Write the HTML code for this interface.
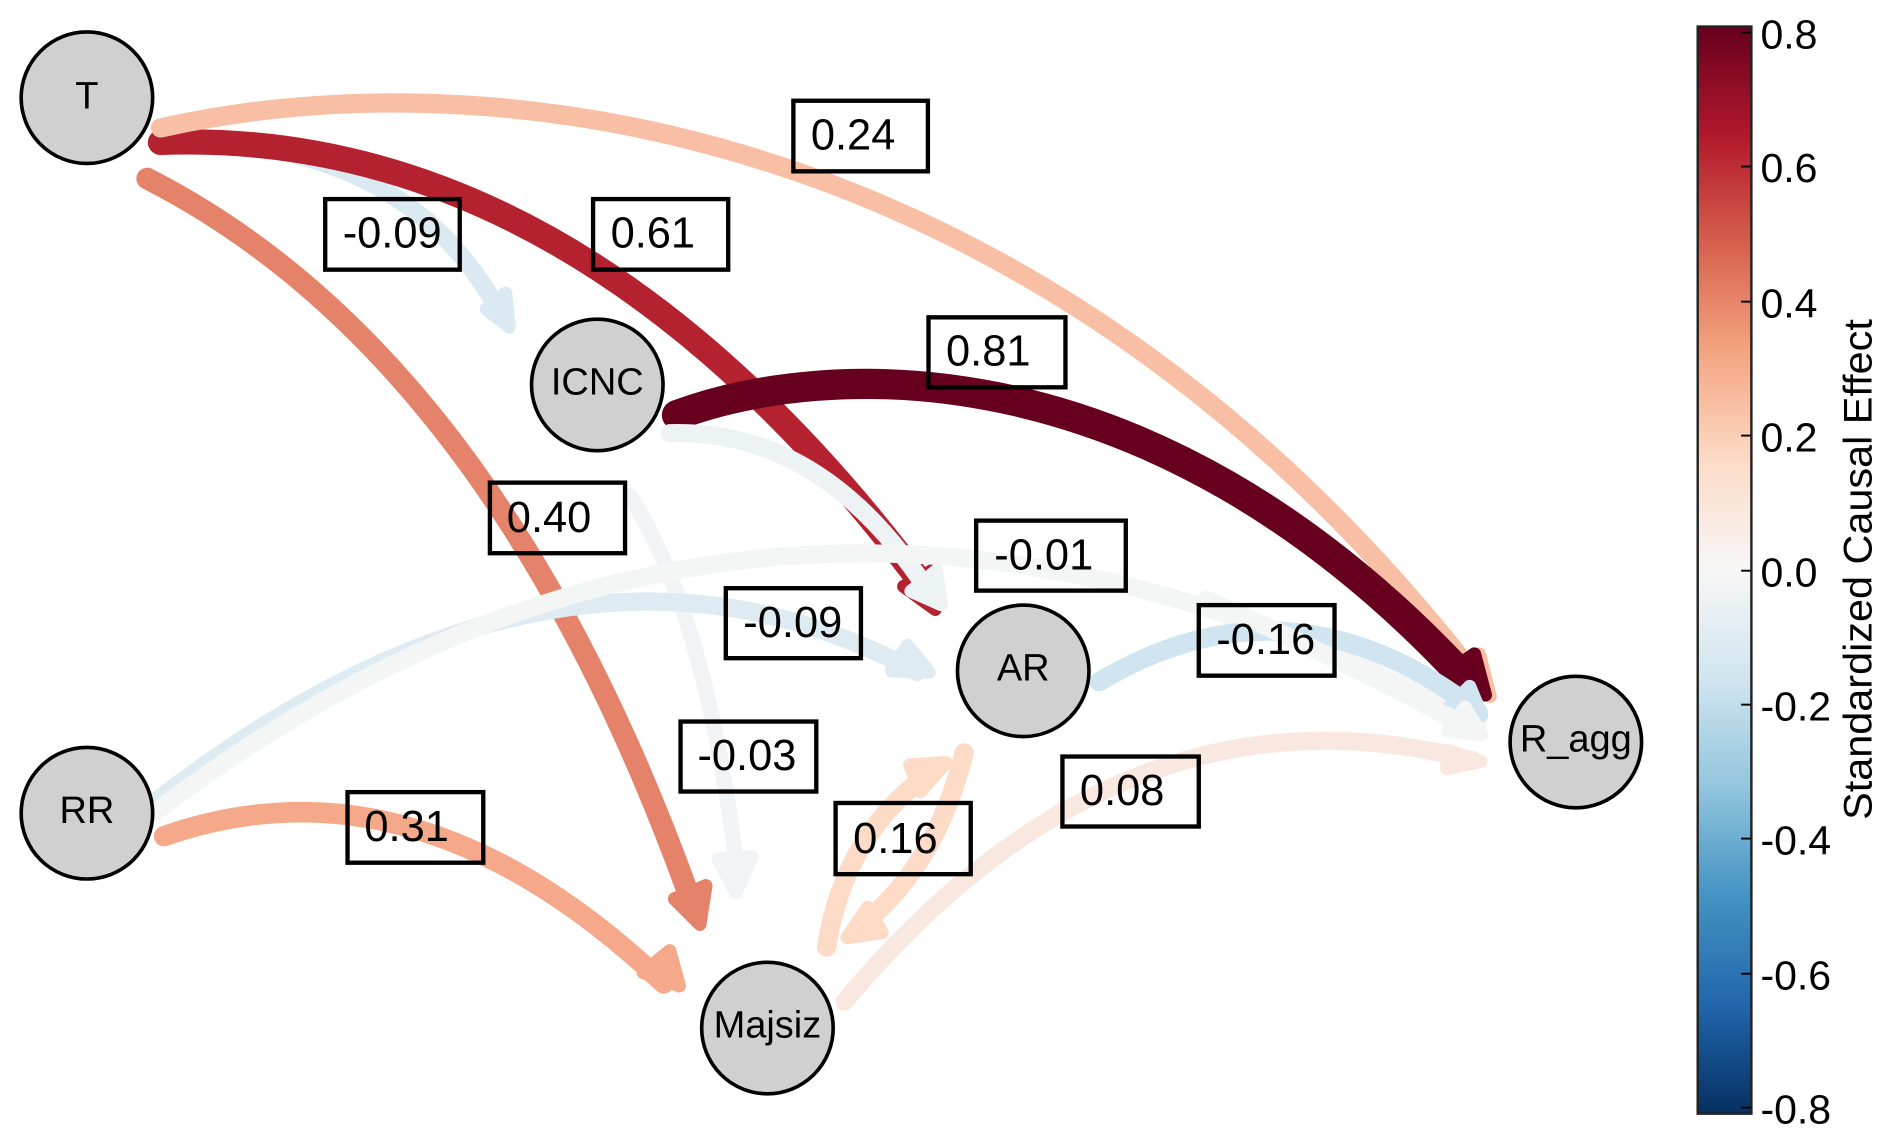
<!DOCTYPE html>
<html>
<head>
<meta charset="utf-8">
<style>
html,body{margin:0;padding:0;background:#fff;}
svg{display:block;}
text{font-family:"Liberation Sans",Arial,sans-serif;fill:#000;}
.e{fill:none;stroke-linecap:round;}
.h{stroke-linejoin:round;stroke-width:11;}
.n{fill:#d0d0d0;stroke:#000;stroke-width:3;}
.l{fill:none;stroke:#000;stroke-width:3.6;}
.t{font-size:36px;}
.nt{font-size:31.5px;text-anchor:middle;}
.c{font-size:34px;}
</style>
</head>
<body>
<svg xmlns="http://www.w3.org/2000/svg" width="1892" height="1143" viewBox="0 0 1568 947.3">
<defs>
<linearGradient id="g" x1="0" y1="0" x2="0" y2="1">
<stop offset="0" stop-color="#67001f"/>
<stop offset="0.1" stop-color="#b2182b"/>
<stop offset="0.2" stop-color="#d6604d"/>
<stop offset="0.3" stop-color="#f4a582"/>
<stop offset="0.4" stop-color="#fddbc7"/>
<stop offset="0.5" stop-color="#f7f7f7"/>
<stop offset="0.6" stop-color="#d1e5f0"/>
<stop offset="0.7" stop-color="#92c5de"/>
<stop offset="0.8" stop-color="#4393c3"/>
<stop offset="0.9" stop-color="#2166ac"/>
<stop offset="1" stop-color="#053061"/>
</linearGradient>
</defs>

<!-- T to ICNC -->
<path class="e" d="M130,118 Q330,110 412,255" stroke="#dbe9f2" stroke-width="15"/>
<polygon class="h" points="419,243 403,256 422,271" fill="#dbe9f2" stroke="#dbe9f2"/>
<!-- T to Majsiz -->
<path class="e" d="M122,148 Q410,295 572,745" stroke="#e5826a" stroke-width="18"/>
<polygon class="h" points="585,734 559,745 580,766" fill="#e5826a" stroke="#e5826a"/>
<!-- T to AR -->
<path class="e" d="M133,118 Q480,105 765,485" stroke="#b5222f" stroke-width="21"/>
<polygon class="h" points="774,472 749,486 775,505" fill="#b5222f" stroke="#b5222f"/>
<!-- T to R_agg -->
<path class="e" d="M133,106 C440,38 885,125 1222,560" stroke="#f9bfa5" stroke-width="16"/>
<polygon class="h" points="1226,542 1203,558 1235,577" fill="#f9bfa5" stroke="#f9bfa5"/>
<!-- ICNC to R_agg -->
<path class="e" d="M561,344 C680,300 950,280 1212,560" stroke="#67001f" stroke-width="25"/>
<polygon class="h" points="1222,542 1200,557 1231,576" fill="#67001f" stroke="#67001f"/>
<!-- ICNC to AR -->
<path class="e" d="M555,359 Q680,355 768,488" stroke="#edf2f5" stroke-width="15"/>
<polygon class="h" points="776,473 755,490 780,501" fill="#edf2f5" stroke="#edf2f5"/>
<!-- ICNC to Majsiz -->
<path class="e" d="M522,411 Q585,510 610,715" stroke="#f0f4f7" stroke-width="13"/>
<polygon class="h" points="595,712 623,710 610,740" fill="#f0f4f7" stroke="#f0f4f7"/>
<!-- RR to AR -->
<path class="e" d="M128,665 Q470,400 760,557" stroke="#deebf2" stroke-width="15"/>
<polygon class="h" points="752,535 739,556 770,557" fill="#deebf2" stroke="#deebf2"/>
<!-- RR to R_agg (first part) -->
<path class="e" d="M130,672 Q640,285 1225,600" stroke="#f4f6f6" stroke-width="15"/>
<!-- RR to Majsiz -->
<path class="e" d="M136,693 Q345,620 550,815" stroke="#f5a98a" stroke-width="17"/>
<polygon class="h" points="555,788 533,806 563,817" fill="#f5a98a" stroke="#f5a98a"/>
<!-- AR to R_agg -->
<path class="e" d="M911,565 Q1070,470 1225,590" stroke="#d1e5f0" stroke-width="16"/>
<polygon class="h" points="1218,569 1201,586 1228,593" fill="#d1e5f0" stroke="#d1e5f0"/>
<path class="e" d="M1000,497 Q1120,550 1215,602" stroke="#f4f6f6" stroke-width="15"/>
<polygon class="h" points="1214,586 1200,606 1228,609" fill="#f4f6f6" stroke="#f4f6f6"/>
<!-- AR to Majsiz -->
<path class="e" d="M799,624 Q775,720 712,768" stroke="#fddbc7" stroke-width="16"/>
<polygon class="h" points="719,752 731,773 702,777" fill="#fddbc7" stroke="#fddbc7"/>
<!-- Majsiz to AR -->
<path class="e" d="M685,785 Q700,690 772,640" stroke="#fddbc7" stroke-width="16"/>
<polygon class="h" points="754,634 784,632 763,656" fill="#fddbc7" stroke="#fddbc7"/>
<!-- Majsiz to R_agg -->
<path class="e" d="M700,830 Q930,555 1220,630" stroke="#f9e8df" stroke-width="15"/>
<polygon class="h" points="1200,622 1227,631 1199,637" fill="#f9e8df" stroke="#f9e8df"/>

<!-- nodes -->
<circle class="n" cx="72" cy="81" r="54.5"/>
<circle class="n" cx="495" cy="319" r="54.5"/>
<circle class="n" cx="848" cy="556" r="54.5"/>
<circle class="n" cx="1306" cy="615" r="54.5"/>
<circle class="n" cx="72" cy="674" r="54.5"/>
<circle class="n" cx="636" cy="852" r="54.5"/>
<text class="nt" x="72" y="90">T</text>
<text class="nt" x="495" y="327">ICNC</text>
<text class="nt" x="848" y="564">AR</text>
<text class="nt" x="1306" y="623">R_agg</text>
<text class="nt" x="72" y="682">RR</text>
<text class="nt" x="636" y="860">Majsiz</text>

<!-- edge labels -->
<rect class="l" x="657.5" y="83.5" width="111.5" height="58.5"/><text class="t" x="672" y="124">0.24</text>
<rect class="l" x="269.5" y="165" width="111.5" height="58.5"/><text class="t" x="284" y="205">-0.09</text>
<rect class="l" x="491.5" y="165" width="112" height="58.5"/><text class="t" x="506" y="205">0.61</text>
<rect class="l" x="769.5" y="263" width="113.5" height="58"/><text class="t" x="784" y="303">0.81</text>
<rect class="l" x="406" y="400" width="112" height="58.5"/><text class="t" x="420" y="441">0.40</text>
<rect class="l" x="809" y="431.5" width="124" height="58"/><text class="t" x="824" y="472">-0.01</text>
<rect class="l" x="601.5" y="487.5" width="112" height="58"/><text class="t" x="616" y="528">-0.09</text>
<rect class="l" x="993.5" y="501.5" width="112.5" height="58.5"/><text class="t" x="1008" y="542">-0.16</text>
<rect class="l" x="564" y="598" width="112.5" height="58"/><text class="t" x="578" y="638">-0.03</text>
<rect class="l" x="692.5" y="665.5" width="112" height="59"/><text class="t" x="707" y="707">0.16</text>
<rect class="l" x="880.5" y="627" width="113" height="58"/><text class="t" x="895" y="667">0.08</text>
<rect class="l" x="288" y="656.5" width="112.5" height="58.5"/><text class="t" x="302" y="697">0.31</text>

<!-- colorbar -->
<rect x="1407" y="22" width="44.5" height="901" fill="url(#g)" stroke="#222" stroke-width="2"/>
<g stroke="#000" stroke-width="1.6">
<line x1="1443" x2="1451" y1="27" y2="27"/>
<line x1="1443" x2="1451" y1="138" y2="138"/>
<line x1="1443" x2="1451" y1="250" y2="250"/>
<line x1="1443" x2="1451" y1="361" y2="361"/>
<line x1="1443" x2="1451" y1="473" y2="473"/>
<line x1="1443" x2="1451" y1="584" y2="584"/>
<line x1="1443" x2="1451" y1="695" y2="695"/>
<line x1="1443" x2="1451" y1="807" y2="807"/>
<line x1="1443" x2="1451" y1="918" y2="918"/>
</g>
<text class="c" x="1459" y="40">0.8</text>
<text class="c" x="1459" y="151">0.6</text>
<text class="c" x="1459" y="263">0.4</text>
<text class="c" x="1459" y="374">0.2</text>
<text class="c" x="1459" y="486">0.0</text>
<text class="c" x="1459" y="597">-0.2</text>
<text class="c" x="1459" y="708">-0.4</text>
<text class="c" x="1459" y="820">-0.6</text>
<text class="c" x="1459" y="931">-0.8</text>
<text transform="translate(1551,472) rotate(-90)" text-anchor="middle" font-size="33" textLength="415" lengthAdjust="spacingAndGlyphs">Standardized Causal Effect</text>
</svg>
</body>
</html>
